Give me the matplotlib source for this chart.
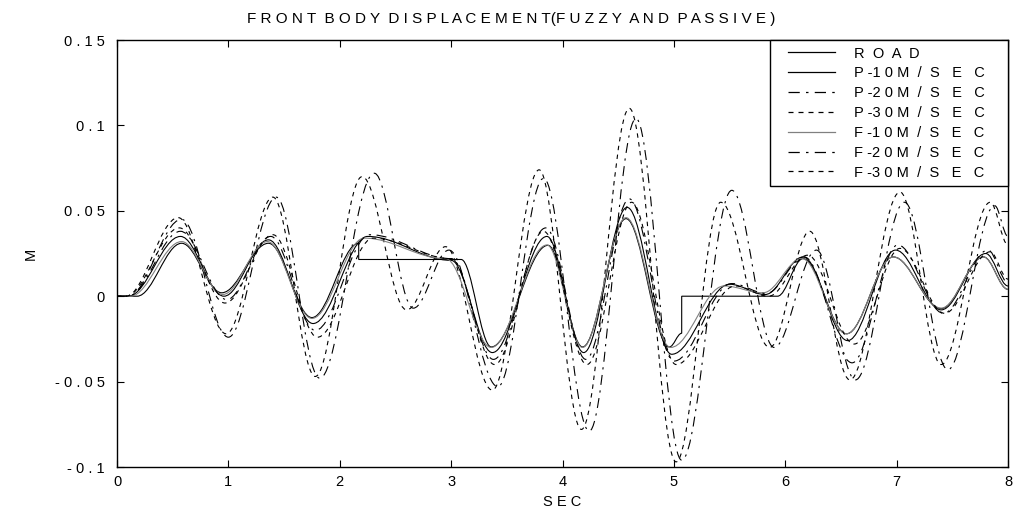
import matplotlib

matplotlib.use("Agg")
import matplotlib.pyplot as plt  # noqa: E402
from matplotlib.legend_handler import HandlerLine2D  # noqa: E402
from matplotlib.lines import Line2D  # noqa: E402
from matplotlib.patches import PathPatch  # noqa: E402
from matplotlib.path import Path  # noqa: E402

plt.rcParams["font.family"] = ["Liberation Sans", "DejaVu Sans"]

# Turning points (sec, m) of each trace.
ROAD_T = [0.0, 0.18, 0.58, 0.94, 1.36, 1.75, 2.17, 2.17, 3.09, 3.36, 3.87, 4.18,
          4.57, 4.96, 5.07, 5.07, 5.93, 6.16, 6.55, 6.97, 7.40, 7.78, 8.0]
ROAD_Y = [0.0, 0.0, 0.031, 0.002, 0.031, -0.0125, 0.031, 0.0215, 0.0215, -0.0297,
          0.0298, -0.0297, 0.0454, -0.0297, -0.0217, 0.0, 0.0, 0.022, -0.022,
          0.023, -0.0072, 0.023, 0.004]

P10_T = [0.0, 0.10, 0.57, 0.96, 1.36, 1.76, 2.25, 3.00, 3.37, 3.86, 4.19, 4.58,
         4.98, 5.50, 5.82, 6.16, 6.56, 6.99, 7.40, 7.80, 8.0]
P10_Y = [0.0, 0.0, 0.035, 0.0, 0.033, -0.016, 0.035, 0.021, -0.033, 0.035, -0.033,
         0.052, -0.034, 0.007, 0.001, 0.023, -0.026, 0.027, -0.008, 0.025, 0.006]

P20_T = [0.0, 0.10, 0.58, 1.00, 1.43, 1.82, 2.31, 2.66, 2.98, 3.42, 3.83, 4.24,
         4.66, 5.07, 5.52, 5.90, 6.28, 6.63, 7.07, 7.46, 7.88, 8.0]
P20_Y = [0.0, 0.0, 0.045, -0.024, 0.058, -0.048, 0.072, -0.007, 0.027, -0.053,
         0.069, -0.079, 0.104, -0.096, 0.062, -0.030, 0.027, -0.049, 0.055,
         -0.043, 0.053, 0.035]

P30_T = [0.0, 0.08, 0.55, 0.98, 1.40, 1.78, 2.20, 2.60, 2.95, 3.37, 3.79, 4.17,
         4.60, 5.02, 5.42, 5.86, 6.22, 6.58, 7.03, 7.40, 7.84, 8.0]
P30_Y = [0.0, 0.0, 0.046, -0.022, 0.058, -0.047, 0.070, -0.008, 0.029, -0.055,
         0.074, -0.078, 0.110, -0.097, 0.055, -0.030, 0.038, -0.049, 0.061,
         -0.040, 0.055, 0.030]

F10_T = [0.0, 0.12, 0.58, 0.95, 1.35, 1.75, 2.22, 2.95, 3.36, 3.86, 4.18, 4.57,
         4.97, 5.45, 5.80, 6.15, 6.55, 6.97, 7.40, 7.78, 8.0]
F10_Y = [0.0, 0.0, 0.032, 0.001, 0.032, -0.013, 0.034, 0.022, -0.030, 0.030,
         -0.030, 0.046, -0.030, 0.006, 0.002, 0.022, -0.022, 0.023, -0.007,
         0.023, 0.004]

F20_T = [0.0, 0.10, 0.57, 0.985, 1.38, 1.78, 2.27, 3.00, 3.38, 3.85, 4.21, 4.60,
         5.00, 5.52, 5.83, 6.17, 6.60, 7.01, 7.42, 7.82, 8.0]
F20_Y = [0.0, 0.0, 0.038, -0.002, 0.035, -0.020, 0.036, 0.022, -0.037, 0.040,
         -0.037, 0.057, -0.038, 0.0074, 0.0016, 0.023, -0.039, 0.030, -0.010,
         0.027, 0.008]

F30_T = [0.0, 0.08, 0.56, 0.97, 1.40, 1.80, 2.30, 3.00, 3.39, 3.83, 4.22, 4.62,
         5.02, 5.55, 5.85, 6.20, 6.62, 7.03, 7.43, 7.84, 8.0]
F30_Y = [0.0, 0.0, 0.040, -0.004, 0.036, -0.024, 0.034, 0.022, -0.040, 0.038,
         -0.040, 0.055, -0.040, 0.006, 0.0, 0.024, -0.028, 0.028, -0.010, 0.026,
         0.010]

LABELS = ["R  O  A  D", "P -1 0 M  /  S   E   C", "P -2 0 M  /  S   E   C",
          "P -3 0 M  /  S   E   C", "F -1 0 M  /  S   E   C", "F -2 0 M  /  S   E   C",
          "F -3 0 M  /  S   E   C"]
TITLE = "F R O N T  B O D Y  D I S P L A C E M E N T(F U Z Z Y  A N D  P A S S I V E )"
X_TICKS = [0, 1, 2, 3, 4, 5, 6, 7, 8]
Y_TICKS = [-0.1, -0.05, 0, 0.05, 0.1, 0.15]
Y_TICK_LABELS = ["- 0 . 1", "- 0 . 0 5", "0", "0 . 0 5", "0 . 1", "0 . 1 5"]

DASH_DOT = (0, (9, 5, 2, 5))
DASHED = (0, (4, 4))
STYLES = [
    dict(color="black", linestyle="-"),
    dict(color="black", linestyle="-"),
    dict(color="black", linestyle=DASH_DOT),
    dict(color="black", linestyle=DASHED),
    dict(color="0.5", linestyle="-"),
    dict(color="black", linestyle=DASH_DOT),
    dict(color="black", linestyle=DASHED),
]


def turning_path(ts, ys, k=0.36):
    """Cubic Bezier through the turning points, flat tangent at each one."""
    verts = [(ts[0], ys[0])]
    codes = [Path.MOVETO]
    for t0, y0, t1, y1 in zip(ts[:-1], ys[:-1], ts[1:], ys[1:]):
        dt = t1 - t0
        verts += [(t0 + k * dt, y0), (t1 - k * dt, y1), (t1, y1)]
        codes += [Path.CURVE4] * 3
    return Path(verts, codes)


class IndentedLine(HandlerLine2D):
    """Legend line that starts a little in from the frame."""

    indent = 8.0

    def create_artists(self, legend, orig_handle, xdescent, ydescent, width,
                       height, fontsize, trans):
        return super().create_artists(legend, orig_handle, xdescent - self.indent,
                                      ydescent, width - self.indent, height,
                                      fontsize, trans)


fig = plt.figure(figsize=(10.13, 5.11), dpi=100)
ax = fig.add_axes([0.1155, 0.0861, 0.8796, 0.8356])

series = [(ROAD_T, ROAD_Y), (P10_T, P10_Y), (P20_T, P20_Y), (P30_T, P30_Y),
          (F10_T, F10_Y), (F20_T, F20_Y), (F30_T, F30_Y)]
handles = []
for (ts, ys), style in zip(series, STYLES):
    ax.add_patch(PathPatch(turning_path(ts, ys), fill=False, lw=0.8,
                           edgecolor=style["color"], linestyle=style["linestyle"]))
    handles.append(Line2D([], [], lw=0.9, **style))

ax.set_xlim(0, 8)
ax.set_ylim(-0.1, 0.15)
ax.set_xticks(X_TICKS)
ax.set_xticklabels([str(x) for x in X_TICKS])
ax.set_yticks(Y_TICKS)
ax.set_yticklabels(Y_TICK_LABELS)
ax.tick_params(direction="in", top=True, right=True, length=5, width=0.8,
               labelsize=10.5)
ax.tick_params(axis="y", pad=9)
ax.tick_params(axis="x", pad=6)
for sp in ax.spines.values():
    sp.set_linewidth(1.0)

fig.text(0.505, 0.962, TITLE, ha="center", va="center", fontsize=11)
ax.set_xlabel("S E C", fontsize=10.5, labelpad=4)
ax.set_ylabel("M", fontsize=10.5, labelpad=12)

leg = ax.legend(handles, LABELS, loc="upper left", mode="expand",
                bbox_to_anchor=(0.7329, 0.6604, 0.2671, 0.3396), borderaxespad=0,
                fancybox=False, edgecolor="black", framealpha=1,
                handler_map={Line2D: IndentedLine()},
                handlelength=4.0, handletextpad=1.3, labelspacing=0.4,
                fontsize=10.5, borderpad=0.45)
leg.get_frame().set_linewidth(1.0)

fig.savefig("out.png", dpi=100)
